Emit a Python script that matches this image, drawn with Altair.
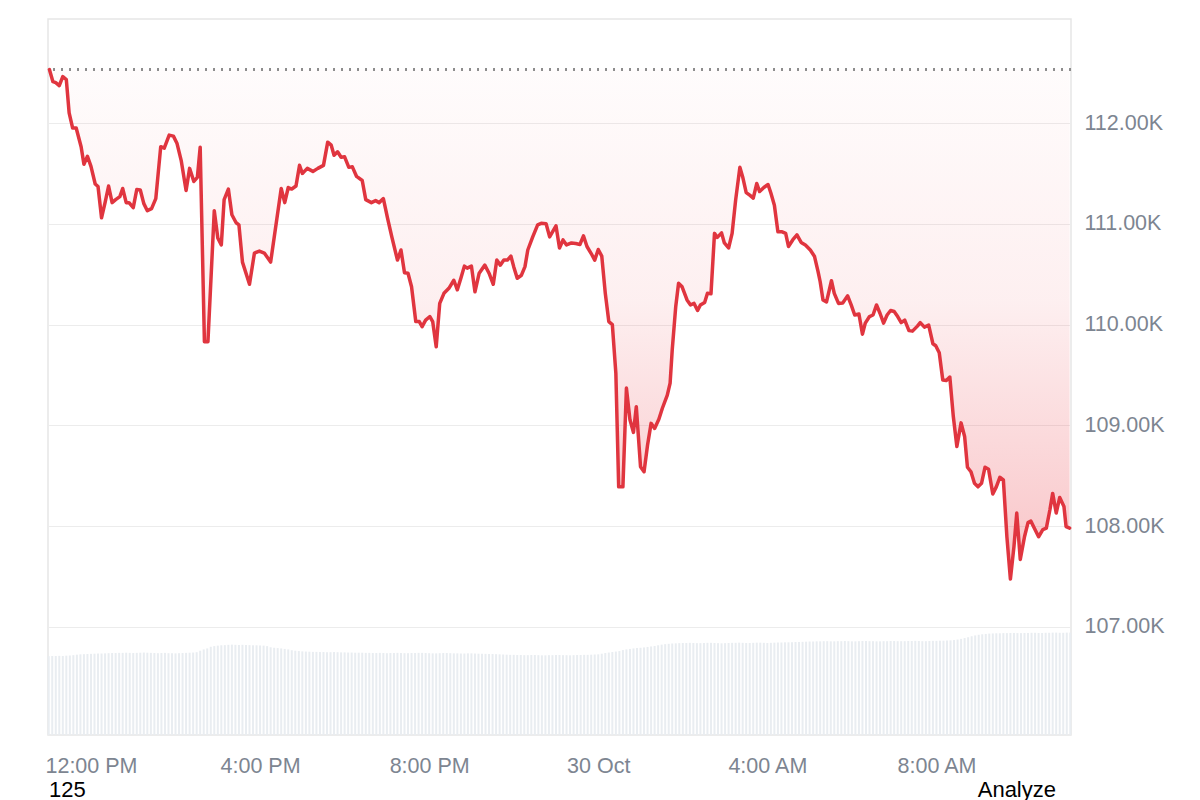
import altair as alt
import pandas as pd

# ---- data (minutes relative to 29 Oct 12:00 PM) ----
minutes = [-59, -54, -50, -45, -40, -35, -31, -26, -21, -14,
           -10, -5, 0, 6, 10, 15, 20, 25, 30, 35,
           41, 45, 50, 54, 60, 65, 70, 75, 80, 86,
           92, 99, 104, 111, 117, 122, 128, 135, 140, 146,
           151, 155, 161, 166, 175, 180, 185, 189, 195, 200,
           206, 210, 215, 225, 232, 239, 246, 255, 270, 275,
           280, 285, 291, 296, 300, 307, 315, 322, 330, 336,
           341, 345, 350, 355, 360, 366, 371, 377, 385, 390,
           398, 404, 409, 415, 421, 427, 435, 440, 445, 450,
           455, 461, 466, 470, 475, 481, 485, 490, 495, 501,
           508, 515, 520, 525, 530, 534, 540, 545, 551, 559,
           565, 571, 576, 581, 586, 591, 596, 600, 605, 611,
           616, 620, 627, 634, 639, 646, 651, 660, 665, 670,
           675, 682, 688, 694, 699, 704, 710, 715, 720, 725,
           730, 735, 740, 745, 749, 755, 760, 765, 770, 774,
           780, 785, 790, 795, 800, 806, 811, 818, 822, 825,
           830, 834, 839, 846, 851, 856, 861, 865, 871, 875,
           880, 885, 889, 895, 899, 905, 910, 915, 921, 925,
           930, 935, 940, 945, 949, 955, 961, 965, 970, 975,
           981, 986, 990, 996, 1002, 1008, 1014, 1021, 1027, 1032,
           1035, 1039, 1044, 1051, 1055, 1061, 1067, 1074, 1079, 1084,
           1090, 1095, 1099, 1105, 1110, 1115, 1120, 1125, 1130, 1135,
           1140, 1145, 1150, 1155, 1161, 1166, 1173, 1177, 1183, 1189,
           1195, 1199, 1204, 1209, 1214, 1219, 1224, 1229, 1235, 1240,
           1244, 1249, 1254, 1259, 1264, 1269, 1274, 1280, 1285, 1290,
           1295, 1300, 1305, 1310, 1314, 1319, 1325, 1330, 1334, 1339,
           1345, 1351, 1356, 1361, 1365, 1370, 1375, 1381, 1384, 1389]

prices = [112530, 112410, 112400, 112370, 112460, 112430, 112100, 111950, 111950, 111765,
          111590, 111670, 111570, 111395, 111370, 111060, 111210, 111375, 111210, 111240,
          111270, 111350, 111210, 111210, 111160, 111340, 111335, 111200, 111130, 111150,
          111250, 111765, 111750, 111880, 111870, 111800, 111630, 111330, 111550, 111420,
          111460, 111760, 109830, 109830, 111130, 110860, 110790, 111240, 111345, 111090,
          111010, 110990, 110620, 110400, 110710, 110730, 110710, 110620, 111350, 111210,
          111360, 111345, 111375, 111580, 111500, 111550, 111520, 111550, 111580, 111810,
          111780, 111680, 111715, 111660, 111665, 111560, 111565, 111470, 111430, 111240,
          111210, 111230, 111210, 111250, 111055, 110870, 110640, 110740, 110515, 110510,
          110375, 110030, 110030, 109980, 110045, 110080, 110030, 109780, 110210, 110310,
          110360, 110440, 110345, 110460, 110580, 110560, 110580, 110325, 110510, 110590,
          110510, 110400, 110640, 110590, 110640, 110640, 110680, 110575, 110460, 110490,
          110575, 110740, 110870, 110990, 111005, 111000, 110870, 110980, 110760, 110840,
          110790, 110810, 110805, 110795, 110880, 110775, 110705, 110640, 110745, 110680,
          110310, 110030, 110000, 109515, 108390, 108390, 109370, 109055, 108930, 109185,
          108590, 108540, 108805, 109020, 108970, 109060, 109170, 109300, 109420, 109750,
          110180, 110410, 110375, 110245, 110195, 110210, 110140, 110195, 110220, 110310,
          110305, 110905, 110865, 110910, 110810, 110760, 110905, 111235, 111560, 111465,
          111310, 111285, 111255, 111400, 111320, 111360, 111390, 111305, 111185, 110920,
          110920, 110905, 110775, 110840, 110890, 110815, 110790, 110740, 110675, 110525,
          110425, 110245, 110225, 110435, 110310, 110210, 110215, 110285, 110195, 110095,
          110105, 109905, 110015, 110080, 110095, 110195, 110110, 110015, 110095, 110140,
          110130, 110080, 110020, 110045, 109940, 109935, 109985, 110020, 109975, 109995,
          109810, 109790, 109720, 109450, 109445, 109480, 109085, 108790, 109025, 108890,
          108585, 108540, 108425, 108390, 108425, 108585, 108565, 108320, 108390, 108485,
          108460, 107895, 107475, 107795, 108130, 107670, 107895, 108035, 108050, 107980,
          107895, 107965, 107980, 108160, 108325, 108130, 108285, 108195, 107995, 107980]

# 24h volume (billions USD), one bar every 5 minutes starting 10:59 AM
volume_b = [47.9, 48.0, 48.0, 48.1, 48.0, 48.2, 48.3, 48.5,
            48.8, 49.0, 49.1, 49.2, 49.3, 49.4, 49.5, 49.5, 49.6, 49.7,
            49.8, 49.8, 49.9, 49.9, 50.0, 49.9, 49.8, 49.9, 50.0, 50.1,
            50.0, 49.9, 49.8, 49.7, 49.8, 49.9, 49.7, 49.6, 49.6, 49.7,
            49.8, 49.9, 50.0, 50.1, 50.3,
            51.2, 52.0, 52.6,
            53.6, 54.0, 54.3, 54.5, 54.6, 54.8, 54.9, 54.8, 54.7, 54.8,
            54.7, 54.6, 54.5, 54.5, 54.4, 54.3, 54.0,
            53.3, 53.0, 52.8, 52.6, 52.3, 52.0,
            51.5, 51.2, 51.0, 50.8, 50.7, 50.6, 50.5, 50.5, 50.4, 50.4,
            50.3, 50.3, 50.4, 50.3, 50.2, 50.2, 50.1, 50.1, 50.0, 50.0,
            50.0, 49.9, 49.9, 49.8, 49.8, 49.9, 49.8, 49.7, 49.8, 49.8,
            49.9, 49.8, 49.7, 49.7, 49.8, 49.8, 49.9, 49.9, 49.8, 49.7,
            49.6, 49.6, 49.7, 49.8, 49.8, 49.7, 49.6, 49.6, 49.5, 49.5,
            49.6, 49.6, 49.5, 49.4, 49.4, 49.3, 49.2, 49.2, 49.1, 49.0,
            48.9, 48.8, 48.7, 48.7, 48.6, 48.6, 48.5, 48.5, 48.6, 48.6,
            48.5, 48.4, 48.4, 48.5, 48.5, 48.6, 48.6, 48.5, 48.5, 48.4,
            48.5, 48.6, 48.6, 48.7, 48.7, 48.8, 48.9, 49.0,
            49.4, 49.8, 50.1, 50.4, 50.7, 51.0,
            51.6, 52.0, 52.3, 52.6, 52.8, 53.0, 53.2, 53.5, 53.8, 54.1, 54.5,
            54.9, 55.2, 55.4, 55.6, 55.7, 55.8, 55.9, 55.9, 56.0, 55.9,
            55.8, 55.8, 55.9, 56.0, 56.0, 55.9, 55.8, 55.7, 55.8, 55.9,
            56.0, 56.0, 56.1, 56.0, 55.9, 55.9, 56.0, 56.1, 56.1, 56.0,
            55.9, 56.0, 56.1, 56.2, 56.2, 56.3, 56.3, 56.4, 56.5, 56.5,
            56.6, 56.7, 56.8, 56.8, 56.9, 56.9, 57.0, 57.0, 56.9, 56.9,
            57.0, 57.0, 57.1, 57.0, 56.9, 56.9, 57.0, 57.1, 57.1, 57.0,
            57.0, 56.9, 56.9, 57.0, 57.0, 57.1, 57.1, 57.0, 57.0, 57.0,
            57.1, 57.1, 57.2, 57.1, 57.0, 57.0, 57.1, 57.2, 57.2, 57.3,
            57.3, 57.4, 57.5, 57.7, 58.0, 58.4, 58.9, 59.4,
            60.0, 60.5, 60.9, 61.2, 61.4, 61.6, 61.7, 61.8, 61.8, 61.9,
            61.9, 62.0, 62.0, 61.9, 61.9, 62.0, 62.0, 62.1, 62.1, 62.0,
            62.0, 62.1, 62.1, 62.2, 62.2, 62.1, 62.1, 62.2, 62.2]

baseline_price = 112530          # opening price (dotted reference line)
y_ticks = [107000, 108000, 109000, 110000, 111000, 112000]
y_domain = [105928, 113032]
volume_domain = [0, 435]
x_tick_hours = [(29, 12), (29, 16), (29, 20), (30, 0), (30, 4), (30, 8)]
annotations_left = ["125"]
annotations_right = ["Analyze"]

# ---- tables ----
start = pd.Timestamp("2025-10-29 12:00")
price_df = pd.DataFrame({
    "time": [start + pd.Timedelta(minutes=m) for m in minutes],
    "price": prices,
})
vol_df = pd.DataFrame({
    "time": [start + pd.Timedelta(minutes=-60 + 5 * i) for i in range(len(volume_b))],
    "volume": volume_b,
})

LABEL_COLOR = "#7d8591"
FONT = "Liberation Sans"

x_enc = alt.X(
    "time:T",
    scale=alt.Scale(
        domain=[
            alt.DateTime(year=2025, month=10, date=29, hours=10, minutes=59),
            alt.DateTime(year=2025, month=10, date=30, hours=11, minutes=11),
        ],
        padding=0, nice=False,
    ),
    axis=alt.Axis(
        values=[alt.DateTime(year=2025, month=10, date=d, hours=h) for d, h in x_tick_hours],
        labelExpr="hours(datum.value) == 0 ? timeFormat(datum.value, '%-d %b') : timeFormat(datum.value, '%-I:%M %p')",
        title=None, grid=False, domain=False, ticks=False,
        labelPadding=20, labelFontSize=21.5, labelColor=LABEL_COLOR, labelFont=FONT,
        labelFlush=False, labelOverlap=False,
    ),
)

price_scale = alt.Scale(domain=y_domain, nice=False, zero=False)
y_axis = alt.Axis(
    orient="right", values=y_ticks, title=None,
    labelExpr="format(datum.value / 1000, '.2f') + 'K'",
    domain=False, ticks=False, grid=True, gridColor="#ececec", gridWidth=1,
    labelPadding=13, labelFontSize=21.5, labelColor=LABEL_COLOR, labelFont=FONT,
)

volume = alt.Chart(vol_df).mark_bar(width=2, color="#e9edf1").encode(
    x=x_enc,
    y=alt.Y("volume:Q", scale=alt.Scale(domain=volume_domain, nice=False), axis=None),
)

gradient = alt.Gradient(
    gradient="linear", x1=0, x2=0, y1=0, y2=1,
    stops=[
        alt.GradientStop(color="rgba(234,57,67,0.015)", offset=0),
        alt.GradientStop(color="rgba(234,57,67,0.08)", offset=0.45),
        alt.GradientStop(color="rgba(234,57,67,0.30)", offset=1),
    ],
)

area = alt.Chart(price_df).mark_area(color=gradient).encode(
    x=x_enc,
    y=alt.Y("price:Q", scale=price_scale, axis=y_axis),
    y2=alt.datum(baseline_price),
)

line = alt.Chart(price_df).mark_line(
    color="#e0353f", strokeWidth=3.5, strokeJoin="round", strokeCap="round"
).encode(
    x=x_enc,
    y=alt.Y("price:Q", scale=price_scale, axis=y_axis),
)

ref = alt.Chart(price_df).mark_rule(
    color="#8c8c8c", strokeDash=[1.5, 6.5], strokeWidth=1.5
).encode(y=alt.datum(baseline_price))

price_layer = alt.layer(area, ref, line)

left_text = alt.Chart(pd.DataFrame({"t": annotations_left})).mark_text(
    align="left", baseline="middle", fontSize=22, font=FONT, color="#000000"
).encode(text="t:N", x=alt.value(1), y=alt.value(771))

right_text = alt.Chart(pd.DataFrame({"t": annotations_right})).mark_text(
    align="right", baseline="middle", fontSize=22, font=FONT, color="#000000"
).encode(text="t:N", x=alt.value(1008), y=alt.value(771))

chart = alt.layer(volume, price_layer, left_text, right_text).resolve_scale(
    y="independent"
).properties(
    width=1023, height=716,
    padding={"left": 36, "top": 11, "right": 5, "bottom": 5},
    background="#ffffff",
).configure_view(stroke="#e6e6e6", strokeWidth=1.5)

chart.save("out.html", embed_options={"renderer": "svg", "actions": False})
